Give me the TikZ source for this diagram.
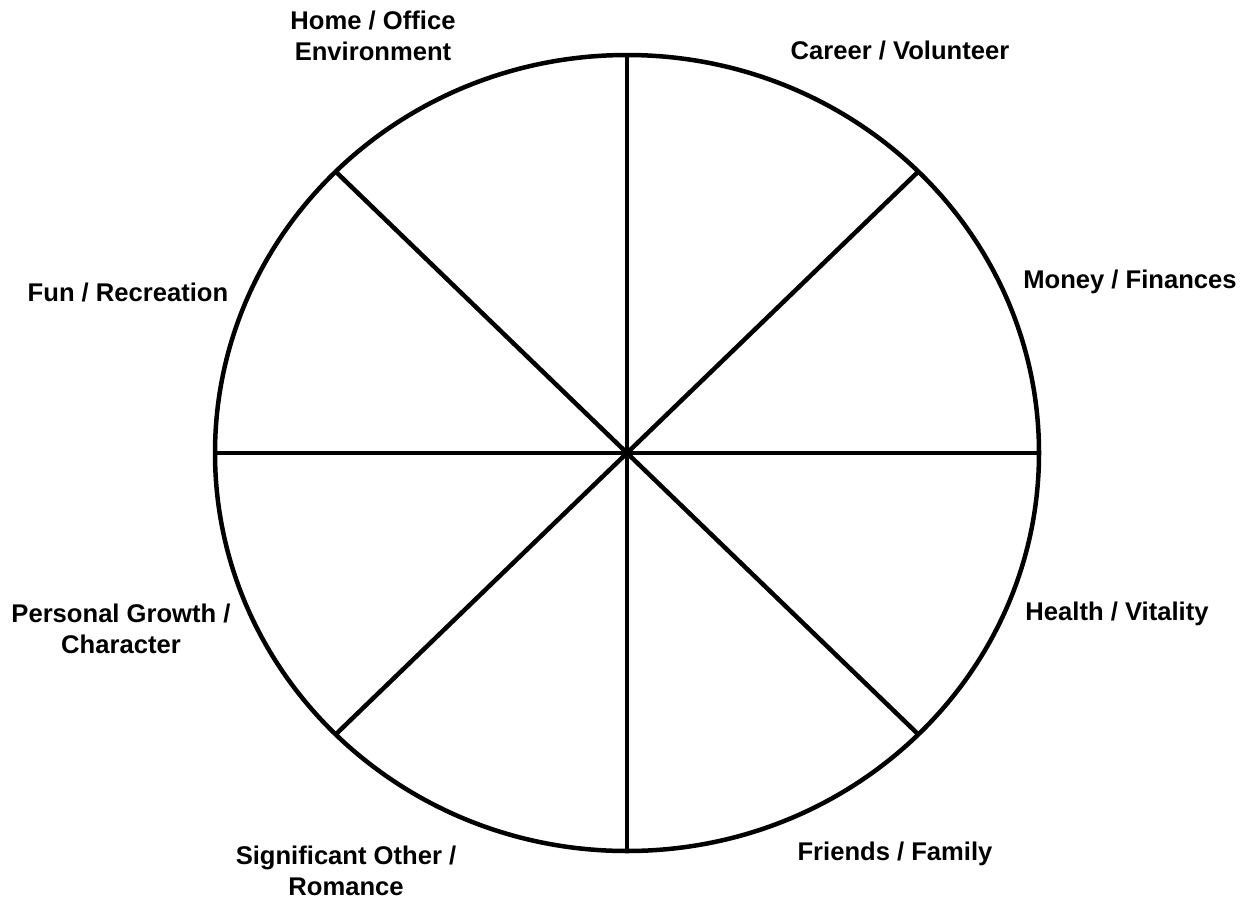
\documentclass[tikz,border=0pt]{standalone}
\usepackage{fontspec}
\setmainfont{Liberation Sans}
\tikzset{
  rim/.style={line width=4.5pt},
  spoke/.style={line width=4.5pt},
  area/.style={font=\bfseries\fontsize{25.6}{31}\selectfont, align=center, inner sep=0pt}
}

\begin{document}
\begin{tikzpicture}[x=1pt,y=-1pt]
\useasboundingbox (0,0) rectangle (1250,900);
\coordinate (hub) at (627,453);
\draw[rim] (hub) ellipse[x radius=412, y radius=398];
\foreach \ang in {0,45,...,315}
  \draw[spoke] (hub) -- ++(\ang:412 and 398);
% labels round the wheel
\node[area] (home) at (373,36) {Home / Office\\Environment};
\node[area] (career) at (900,50) {Career / Volunteer};
\node[area] (money) at (1130,282) {Money / Finances};
\node[area] (fun) at (128,292) {Fun / Recreation};
\node[area] (health) at (1117,614) {Health / Vitality};
\node[area] (growth) at (121,629) {Personal Growth /\\Character};
\node[area] (romance) at (346,871) {Significant Other /\\Romance};
\node[area] (friends) at (895,854) {Friends / Family};
\end{tikzpicture}
\end{document}
